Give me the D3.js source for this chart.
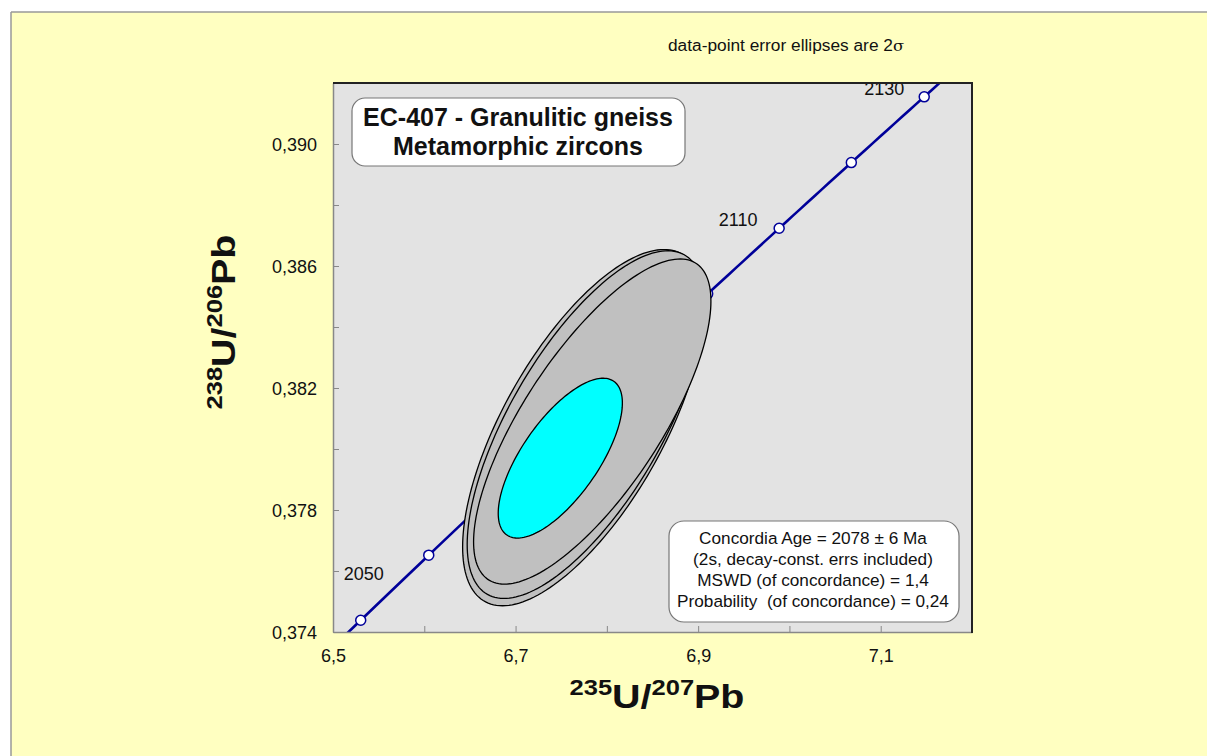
<!DOCTYPE html>
<html>
<head>
<meta charset="utf-8">
<script src="https://cdn.jsdelivr.net/npm/d3@7"></script>
<style>
  body { margin: 0; background: #ffffff; }
  text { font-family: "Liberation Sans", Arial, sans-serif; }
</style>
</head>
<body>
<svg id="chart" width="1207" height="756"></svg>
<script>
// Axis ticks
const xMajorTicks = [6.5, 6.7, 6.9, 7.1];
const xMinorTicks = [6.5, 6.6, 6.7, 6.8, 6.9, 7.0, 7.1, 7.2];
const yMajorTicks = [0.374, 0.378, 0.382, 0.386, 0.390];
const yMinorTicks = [0.374, 0.376, 0.378, 0.380, 0.382, 0.384, 0.386, 0.388, 0.390, 0.392];

// Concordia age markers (Ma) and labelled ages
const markerAges = [2050, 2060, 2070, 2080, 2090, 2100, 2110, 2120, 2130];
const labelAges = [2050, 2110, 2130];

// Analyses: 207Pb/235U, 206Pb/238U, 2-sigma errors, error correlation
const spotX   = [6.774, 6.777, 6.784];
const spotY   = [0.3807, 0.3808, 0.3809];
const spotSx  = [0.132, 0.130, 0.130];
const spotSy  = [0.00584, 0.00570, 0.00533];
const spotRho = [0.67, 0.69, 0.74];

// Concordia age ellipse
const ageX = [6.749];
const ageY = [0.3797];
const ageSx = [0.068];
const ageSy = [0.00262];
const ageRho = [0.69];

const legendLines = [
  "Concordia Age = 2078 \u00B1 6 Ma",
  "(2s, decay-const. errs included)",
  "MSWD (of concordance) = 1,4",
  "Probability  (of concordance) = 0,24"
];
const titleLines = ["EC-407 - Granulitic gneiss", "Metamorphic zircons"];

// Decay constants per Ma
const L235 = 9.8485e-4;
const L238 = 1.55125e-4;

const svg = d3.select("#chart");
const W = 1207, H = 756;
const plot = { left: 333, right: 972, top: 83, bottom: 632 };

const x = d3.scaleLinear().domain([6.5, 7.2]).range([plot.left, plot.right]);
const y = d3.scaleLinear().domain([0.374, 0.392]).range([plot.bottom, plot.top]);

const fmt = d3.formatLocale({ decimal: ",", thousands: ".", grouping: [3], currency: ["", ""] });
const fx = fmt.format(".1f");
const fy = fmt.format(".3f");

// Page background
svg.append("rect").attr("x", 11).attr("y", 12).attr("width", W - 11).attr("height", H - 12)
  .attr("fill", "#FFFFC1");
svg.append("line").attr("x1", 11).attr("y1", 12).attr("x2", W).attr("y2", 12)
  .attr("stroke", "#999").attr("stroke-width", 1.5);
svg.append("line").attr("x1", 11).attr("y1", 12).attr("x2", 11).attr("y2", H)
  .attr("stroke", "#999").attr("stroke-width", 1.5);

// Plot area
svg.append("rect").attr("x", plot.left).attr("y", plot.top)
  .attr("width", plot.right - plot.left).attr("height", plot.bottom - plot.top)
  .attr("fill", "#E3E3E3");

svg.append("defs").append("clipPath").attr("id", "plotClip")
  .append("rect").attr("x", plot.left).attr("y", plot.top)
  .attr("width", plot.right - plot.left).attr("height", plot.bottom - plot.top);

const inner = svg.append("g").attr("clip-path", "url(#plotClip)");

// Concordia curve
const ages = d3.range(2030, 2151, 1);
const concordia = d3.line()
  .x(t => x(Math.exp(L235 * t) - 1))
  .y(t => y(Math.exp(L238 * t) - 1));
inner.append("path").datum(ages).attr("d", concordia)
  .attr("fill", "none").attr("stroke", "#000099").attr("stroke-width", 2.6);

inner.selectAll("circle.age").data(markerAges).join("circle")
  .attr("class", "age")
  .attr("cx", t => x(Math.exp(L235 * t) - 1))
  .attr("cy", t => y(Math.exp(L238 * t) - 1))
  .attr("r", 5)
  .attr("fill", "#fff").attr("stroke", "#000099").attr("stroke-width", 1.5);

// Error ellipse outline in data space
function ellipsePath(cx, cy, sx, sy, rho) {
  const pts = d3.range(0, 360, 2).map(deg => {
    const a = deg * Math.PI / 180;
    const dx = sx * Math.cos(a);
    const dy = sy * (rho * Math.cos(a) + Math.sqrt(1 - rho * rho) * Math.sin(a));
    return [x(cx + dx), y(cy + dy)];
  });
  return d3.line().curve(d3.curveLinearClosed)(pts);
}

const spots = spotX.map((v, i) => i);
inner.selectAll("path.spot").data(spots).join("path")
  .attr("class", "spot")
  .attr("d", i => ellipsePath(spotX[i], spotY[i], spotSx[i], spotSy[i], spotRho[i]))
  .attr("fill", "#C0C0C0").attr("stroke", "#000").attr("stroke-width", 1.3);

inner.selectAll("path.ageEll").data(ageX.map((v, i) => i)).join("path")
  .attr("class", "ageEll")
  .attr("d", i => ellipsePath(ageX[i], ageY[i], ageSx[i], ageSy[i], ageRho[i]))
  .attr("fill", "#00FFFF").attr("stroke", "#000").attr("stroke-width", 1.3);

// Age labels on concordia
const labelOffset = { 2050: [3, -46], 2110: [-41, -8], 2130: [-40, -8] };
svg.selectAll("text.ageLabel").data(labelAges).join("text")
  .attr("class", "ageLabel")
  .attr("x", t => x(Math.exp(L235 * t) - 1) + labelOffset[t][0])
  .attr("y", t => y(Math.exp(L238 * t) - 1) + labelOffset[t][1])
  .attr("text-anchor", "middle").attr("dominant-baseline", "central")
  .attr("font-size", 18).attr("fill", "#111")
  .text(t => t);

// Axes
const gx = svg.append("g").attr("transform", `translate(0,${plot.bottom})`)
  .call(d3.axisBottom(x).tickValues(xMinorTicks).tickSizeInner(-6).tickSizeOuter(0)
    .tickFormat(d => xMajorTicks.some(v => Math.abs(v - d) < 1e-9) ? fx(d) : ""));
gx.select(".domain").attr("stroke", "#888").attr("stroke-width", 1.5);
gx.selectAll(".tick line").attr("stroke", "#888");
gx.selectAll(".tick text").attr("font-size", 18).attr("fill", "#111").attr("y", 0)
  .attr("dy", "24px").attr("dominant-baseline", "central").style("font-family", "Liberation Sans, Arial, sans-serif");

const gy = svg.append("g").attr("transform", `translate(${plot.left},0)`)
  .call(d3.axisLeft(y).tickValues(yMinorTicks).tickSizeInner(-6).tickSizeOuter(0)
    .tickFormat(d => yMajorTicks.some(v => Math.abs(v - d) < 1e-9) ? fy(d) : ""));
gy.select(".domain").attr("stroke", "#888").attr("stroke-width", 1.5);
gy.selectAll(".tick line").attr("stroke", "#888");
gy.selectAll(".tick text").attr("font-size", 18).attr("fill", "#111")
  .attr("x", -16).attr("dy", "0.35em").style("font-family", "Liberation Sans, Arial, sans-serif");

// Frame top and right
svg.append("line").attr("x1", plot.left).attr("x2", plot.right + 1).attr("y1", plot.top).attr("y2", plot.top)
  .attr("stroke", "#222").attr("stroke-width", 2);
svg.append("line").attr("x1", plot.right).attr("x2", plot.right).attr("y1", plot.top).attr("y2", plot.bottom + 1)
  .attr("stroke", "#222").attr("stroke-width", 2);

// Axis titles
function isotopeTitle(g, parts) {
  const t = g.append("text").attr("text-anchor", "middle").attr("font-weight", "bold").attr("fill", "#111");
  parts.forEach(p => {
    t.append("tspan").attr("font-size", p.sup ? 22 : 34)
      .attr("dy", p.dy).text(p.s);
  });
  return t;
}
const xt = svg.append("g").attr("transform", "translate(657,708) scale(1.16,1)");
isotopeTitle(xt, [
  { s: "235", sup: true, dy: -13 }, { s: "U/", sup: false, dy: 13 },
  { s: "207", sup: true, dy: -13 }, { s: "Pb", sup: false, dy: 13 }
]);
const yt = svg.append("g").attr("transform", "translate(235,322) rotate(-90) scale(1.16,1)");
isotopeTitle(yt, [
  { s: "238", sup: true, dy: -13 }, { s: "U/", sup: false, dy: 13 },
  { s: "206", sup: true, dy: -13 }, { s: "Pb", sup: false, dy: 13 }
]);

// Header note
const note = svg.append("text").attr("x", 786).attr("y", 51).attr("text-anchor", "middle")
  .attr("font-size", 16).attr("fill", "#111")
  .attr("textLength", 236).attr("lengthAdjust", "spacingAndGlyphs");
note.append("tspan").text("data-point error ellipses are 2");
note.append("tspan").style("font-family", "DejaVu Serif, serif").attr("font-size", 15).text("\u03C3");

// Title box
svg.append("rect").attr("x", 352).attr("y", 98).attr("width", 333).attr("height", 68)
  .attr("rx", 13).attr("fill", "#fff").attr("stroke", "#777").attr("stroke-width", 1.2);
svg.selectAll("text.title").data(titleLines).join("text")
  .attr("class", "title")
  .attr("x", 518).attr("y", (d, i) => 117 + i * 29)
  .attr("text-anchor", "middle").attr("dominant-baseline", "central")
  .attr("font-weight", "bold").attr("font-size", 25).attr("fill", "#111")
  .text(d => d);

// Result box
svg.append("rect").attr("x", 669).attr("y", 521).attr("width", 290).attr("height", 101)
  .attr("rx", 15).attr("fill", "#fff").attr("stroke", "#777").attr("stroke-width", 1.2);
svg.selectAll("text.result").data(legendLines).join("text")
  .attr("class", "result")
  .attr("x", 813).attr("y", (d, i) => 538 + i * 21)
  .attr("text-anchor", "middle").attr("dominant-baseline", "central")
  .attr("font-size", 17.2).attr("fill", "#111")
  .style("white-space", "pre")
  .text(d => d);
</script>
</body>
</html>
